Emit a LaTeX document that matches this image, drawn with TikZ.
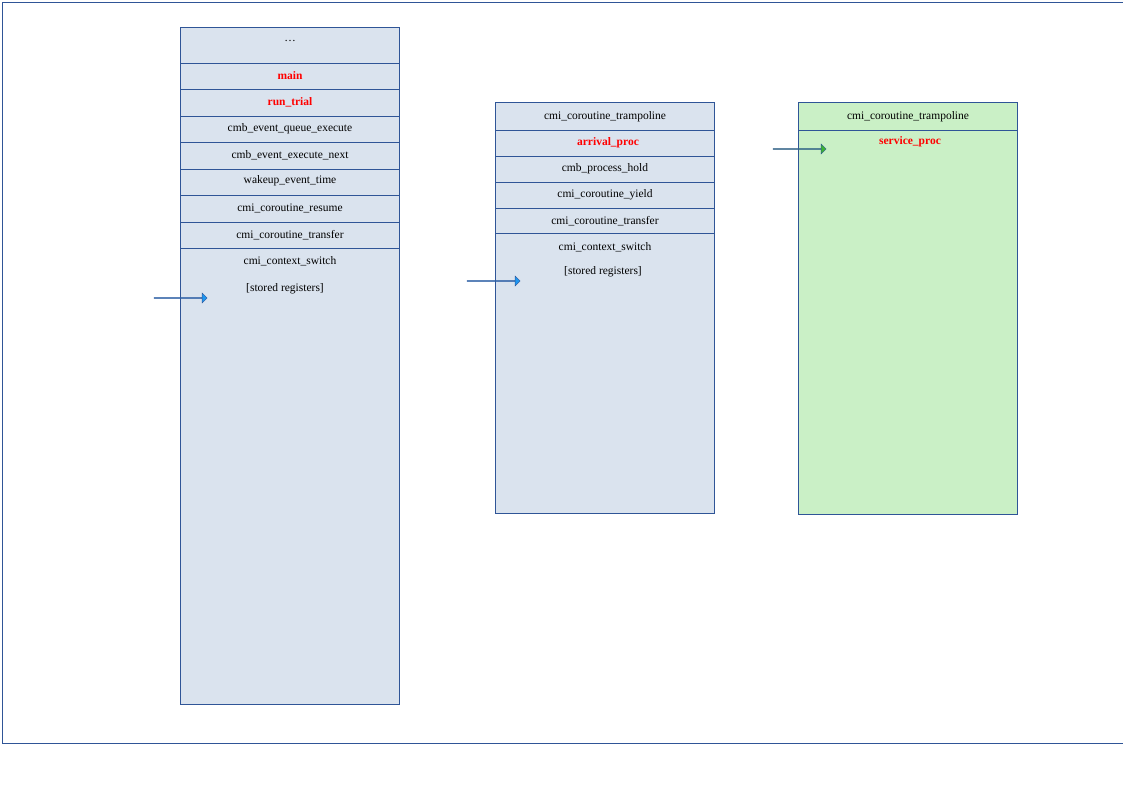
\documentclass[tikz,border=0pt]{standalone}
\usepackage{fontspec}
\setmainfont{Liberation Serif}
\usetikzlibrary{shapes.arrows}
\definecolor{stackblue}{RGB}{218,227,238}
\definecolor{stackgreen}{RGB}{202,240,198}
\definecolor{edgeblue}{RGB}{47,85,151}
\definecolor{arrowblue}{RGB}{30,150,240}
\definecolor{arrowgreen}{RGB}{60,180,50}
\tikzset{
    stack/.style={draw=edgeblue,line width=0.7pt},
    frame/.style={
           rectangle,
           anchor=north west,
           draw=edgeblue,
           line width=0.7pt,
           minimum width=219pt,
           inner sep=0pt,
           },
    fn/.style={font=\fontsize{11.5}{13}\selectfont,inner sep=1pt},
    hot/.style={fn,text=red,font=\fontsize{11.5}{13}\selectfont\bfseries},
    sp/.style={
           single arrow,
           draw=edgeblue,
           line width=0.4pt,
           minimum height=53pt,
           minimum width=10pt,
           single arrow head extend=2.5pt,
           inner sep=0pt,
           },
}
\begin{document}
\begin{tikzpicture}[x=1pt,y=-1pt]
\useasboundingbox (0,0) rectangle (1123,794);
\draw[edgeblue,line width=0.6pt] (2,2) rectangle (1123,743);

% scheduler stack
\node[frame,fill=stackblue,minimum height=677pt](mainstack) at (180,27){};
\foreach \y in {63,89,116,142,169,195,222,248}
  \draw[stack] (180,\y) -- (399,\y);
\node[fn](dots) at (290,41){\dots};
\node[hot](main) at (290,76){main};
\node[hot](runtrial) at (290,102){run\_trial};
\node[fn](queueexec) at (290,129){cmb\_event\_queue\_execute};
\node[fn](execnext) at (290,155){cmb\_event\_execute\_next};
\node[fn](wakeup) at (290,181){wakeup\_event\_time};
\node[fn](resume) at (290,208){cmi\_coroutine\_resume};
\node[fn](transfera) at (290,235){cmi\_coroutine\_transfer};
\node[fn](switcha) at (290,261){cmi\_context\_switch};
\node[fn](regsa) at (285,289){[stored registers]};

% arrival stack
\node[frame,fill=stackblue,minimum height=411pt](arrivalstack) at (495,102){};
\foreach \y in {130,156,182,208,233}
  \draw[stack] (495,\y) -- (714,\y);
\node[fn](trampb) at (605,117){cmi\_coroutine\_trampoline};
\node[hot](arrival) at (608,143){arrival\_proc};
\node[fn](hold) at (605,169){cmb\_process\_hold};
\node[fn](yield) at (605,195){cmi\_coroutine\_yield};
\node[fn](transferb) at (605,221){cmi\_coroutine\_transfer};
\node[fn](switchb) at (605,247){cmi\_context\_switch};
\node[fn](regsb) at (603,272){[stored registers]};

% service stack
\node[frame,fill=stackgreen,minimum height=412pt](servicestack) at (798,102){};
\draw[stack] (798,130) -- (1017,130);
\node[fn](trampc) at (908,117){cmi\_coroutine\_trampoline};
\node[hot](service) at (910,142){service\_proc};

% stack pointers
\node[sp,fill=arrowblue](spa) at (180.5,298){};
\node[sp,fill=arrowblue](spb) at (493.5,281){};
\node[sp,fill=arrowgreen](spc) at (799.5,149){};
\end{tikzpicture}
\end{document}
